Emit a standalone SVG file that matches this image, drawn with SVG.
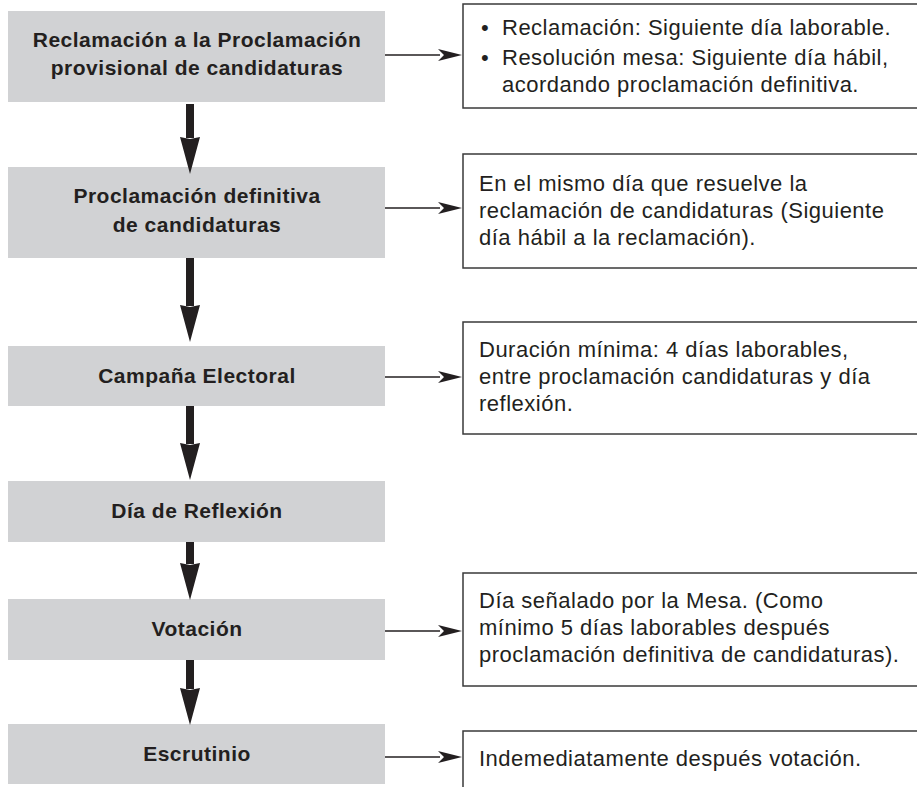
<svg xmlns="http://www.w3.org/2000/svg" width="917" height="787" viewBox="0 0 917 787">
<style>
.step{fill:#d1d2d4;}
.note{fill:#ffffff;stroke:#3a3a3a;stroke-width:1.5;}
.lbl{font-family:"Liberation Sans",Arial,sans-serif;font-weight:bold;font-size:21px;letter-spacing:0.5px;fill:#231f20;text-anchor:middle;}
.txt{font-family:"Liberation Sans",Arial,sans-serif;font-size:22px;letter-spacing:0.5px;fill:#231f20;}
.thin{stroke:#231f20;stroke-width:1.4;fill:none;}
.thick{stroke:#231f20;stroke-width:8;fill:none;}
</style>
<defs>
<marker id="ah" markerUnits="userSpaceOnUse" viewBox="0 0 24 12" markerWidth="24" markerHeight="12" refX="2" refY="6" orient="auto">
<path d="M0,0 L24,6 L0,12 L6,6 z" fill="#231f20"/>
</marker>
<marker id="bh" markerUnits="userSpaceOnUse" viewBox="0 0 37 20" markerWidth="37" markerHeight="20" refX="1" refY="10" orient="auto">
<path d="M0,0 L37,10 L0,20 L2,10 z" fill="#231f20"/>
</marker>
</defs>
<rect width="917" height="787" fill="#ffffff"/>

<g id="n1"><rect class="step" x="8" y="11" width="377" height="91"/>
<text class="lbl" x="197" y="47">Reclamación a la Proclamación</text>
<text class="lbl" x="197" y="75">provisional de candidaturas</text></g>
<g id="n2"><rect class="step" x="8" y="167" width="377" height="91"/>
<text class="lbl" x="197" y="203">Proclamación definitiva</text>
<text class="lbl" x="197" y="232">de candidaturas</text></g>
<g id="n3"><rect class="step" x="8" y="346" width="377" height="60"/>
<text class="lbl" x="197" y="383">Campaña Electoral</text></g>
<g id="n4"><rect class="step" x="8" y="481" width="377" height="61"/>
<text class="lbl" x="197" y="518">Día de Reflexión</text></g>
<g id="n5"><rect class="step" x="8" y="599" width="377" height="61"/>
<text class="lbl" x="197" y="636">Votación</text></g>
<g id="n6"><rect class="step" x="8" y="724" width="377" height="60"/>
<text class="lbl" x="197" y="761">Escrutinio</text></g>

<g id="d1"><rect class="note" x="463" y="4" width="460" height="104"/>
<text class="txt" x="481" y="35">•</text>
<text class="txt" x="502" y="35">Reclamación: Siguiente día laborable.</text>
<text class="txt" x="481" y="65">•</text>
<text class="txt" x="502" y="65">Resolución mesa: Siguiente día hábil,</text>
<text class="txt" x="502" y="92">acordando proclamación definitiva.</text></g>
<g id="d2"><rect class="note" x="463" y="154" width="460" height="114"/>
<text class="txt" x="479" y="191">En el mismo día que resuelve la</text>
<text class="txt" x="479" y="218">reclamación de candidaturas (Siguiente</text>
<text class="txt" x="479" y="245">día hábil a la reclamación).</text></g>
<g id="d3"><rect class="note" x="463" y="322" width="460" height="112"/>
<text class="txt" x="479" y="357">Duración mínima: 4 días laborables,</text>
<text class="txt" x="479" y="384">entre proclamación candidaturas y día</text>
<text class="txt" x="479" y="411">reflexión.</text></g>
<g id="d5"><rect class="note" x="463" y="573" width="460" height="113"/>
<text class="txt" x="479" y="608">Día señalado por la Mesa. (Como</text>
<text class="txt" x="479" y="635">mínimo 5 días laborables después</text>
<text class="txt" x="479" y="662">proclamación definitiva de candidaturas).</text></g>
<g id="d6"><rect class="note" x="463" y="731" width="460" height="80"/>
<text class="txt" x="479" y="766">Indemediatamente después votación.</text></g>

<g id="connectors">
<line class="thick" x1="190" y1="104" x2="190" y2="138" marker-end="url(#bh)"/>
<line class="thick" x1="190" y1="258" x2="190" y2="306" marker-end="url(#bh)"/>
<line class="thick" x1="190" y1="406" x2="190" y2="444" marker-end="url(#bh)"/>
<line class="thick" x1="190" y1="542" x2="190" y2="564" marker-end="url(#bh)"/>
<line class="thick" x1="190" y1="660" x2="190" y2="689" marker-end="url(#bh)"/>
<line class="thin" x1="385" y1="55" x2="440" y2="55" marker-end="url(#ah)"/>
<line class="thin" x1="385" y1="208" x2="440" y2="208" marker-end="url(#ah)"/>
<line class="thin" x1="385" y1="377" x2="440" y2="377" marker-end="url(#ah)"/>
<line class="thin" x1="385" y1="631" x2="440" y2="631" marker-end="url(#ah)"/>
<line class="thin" x1="385" y1="757" x2="440" y2="757" marker-end="url(#ah)"/>
</g>
</svg>
